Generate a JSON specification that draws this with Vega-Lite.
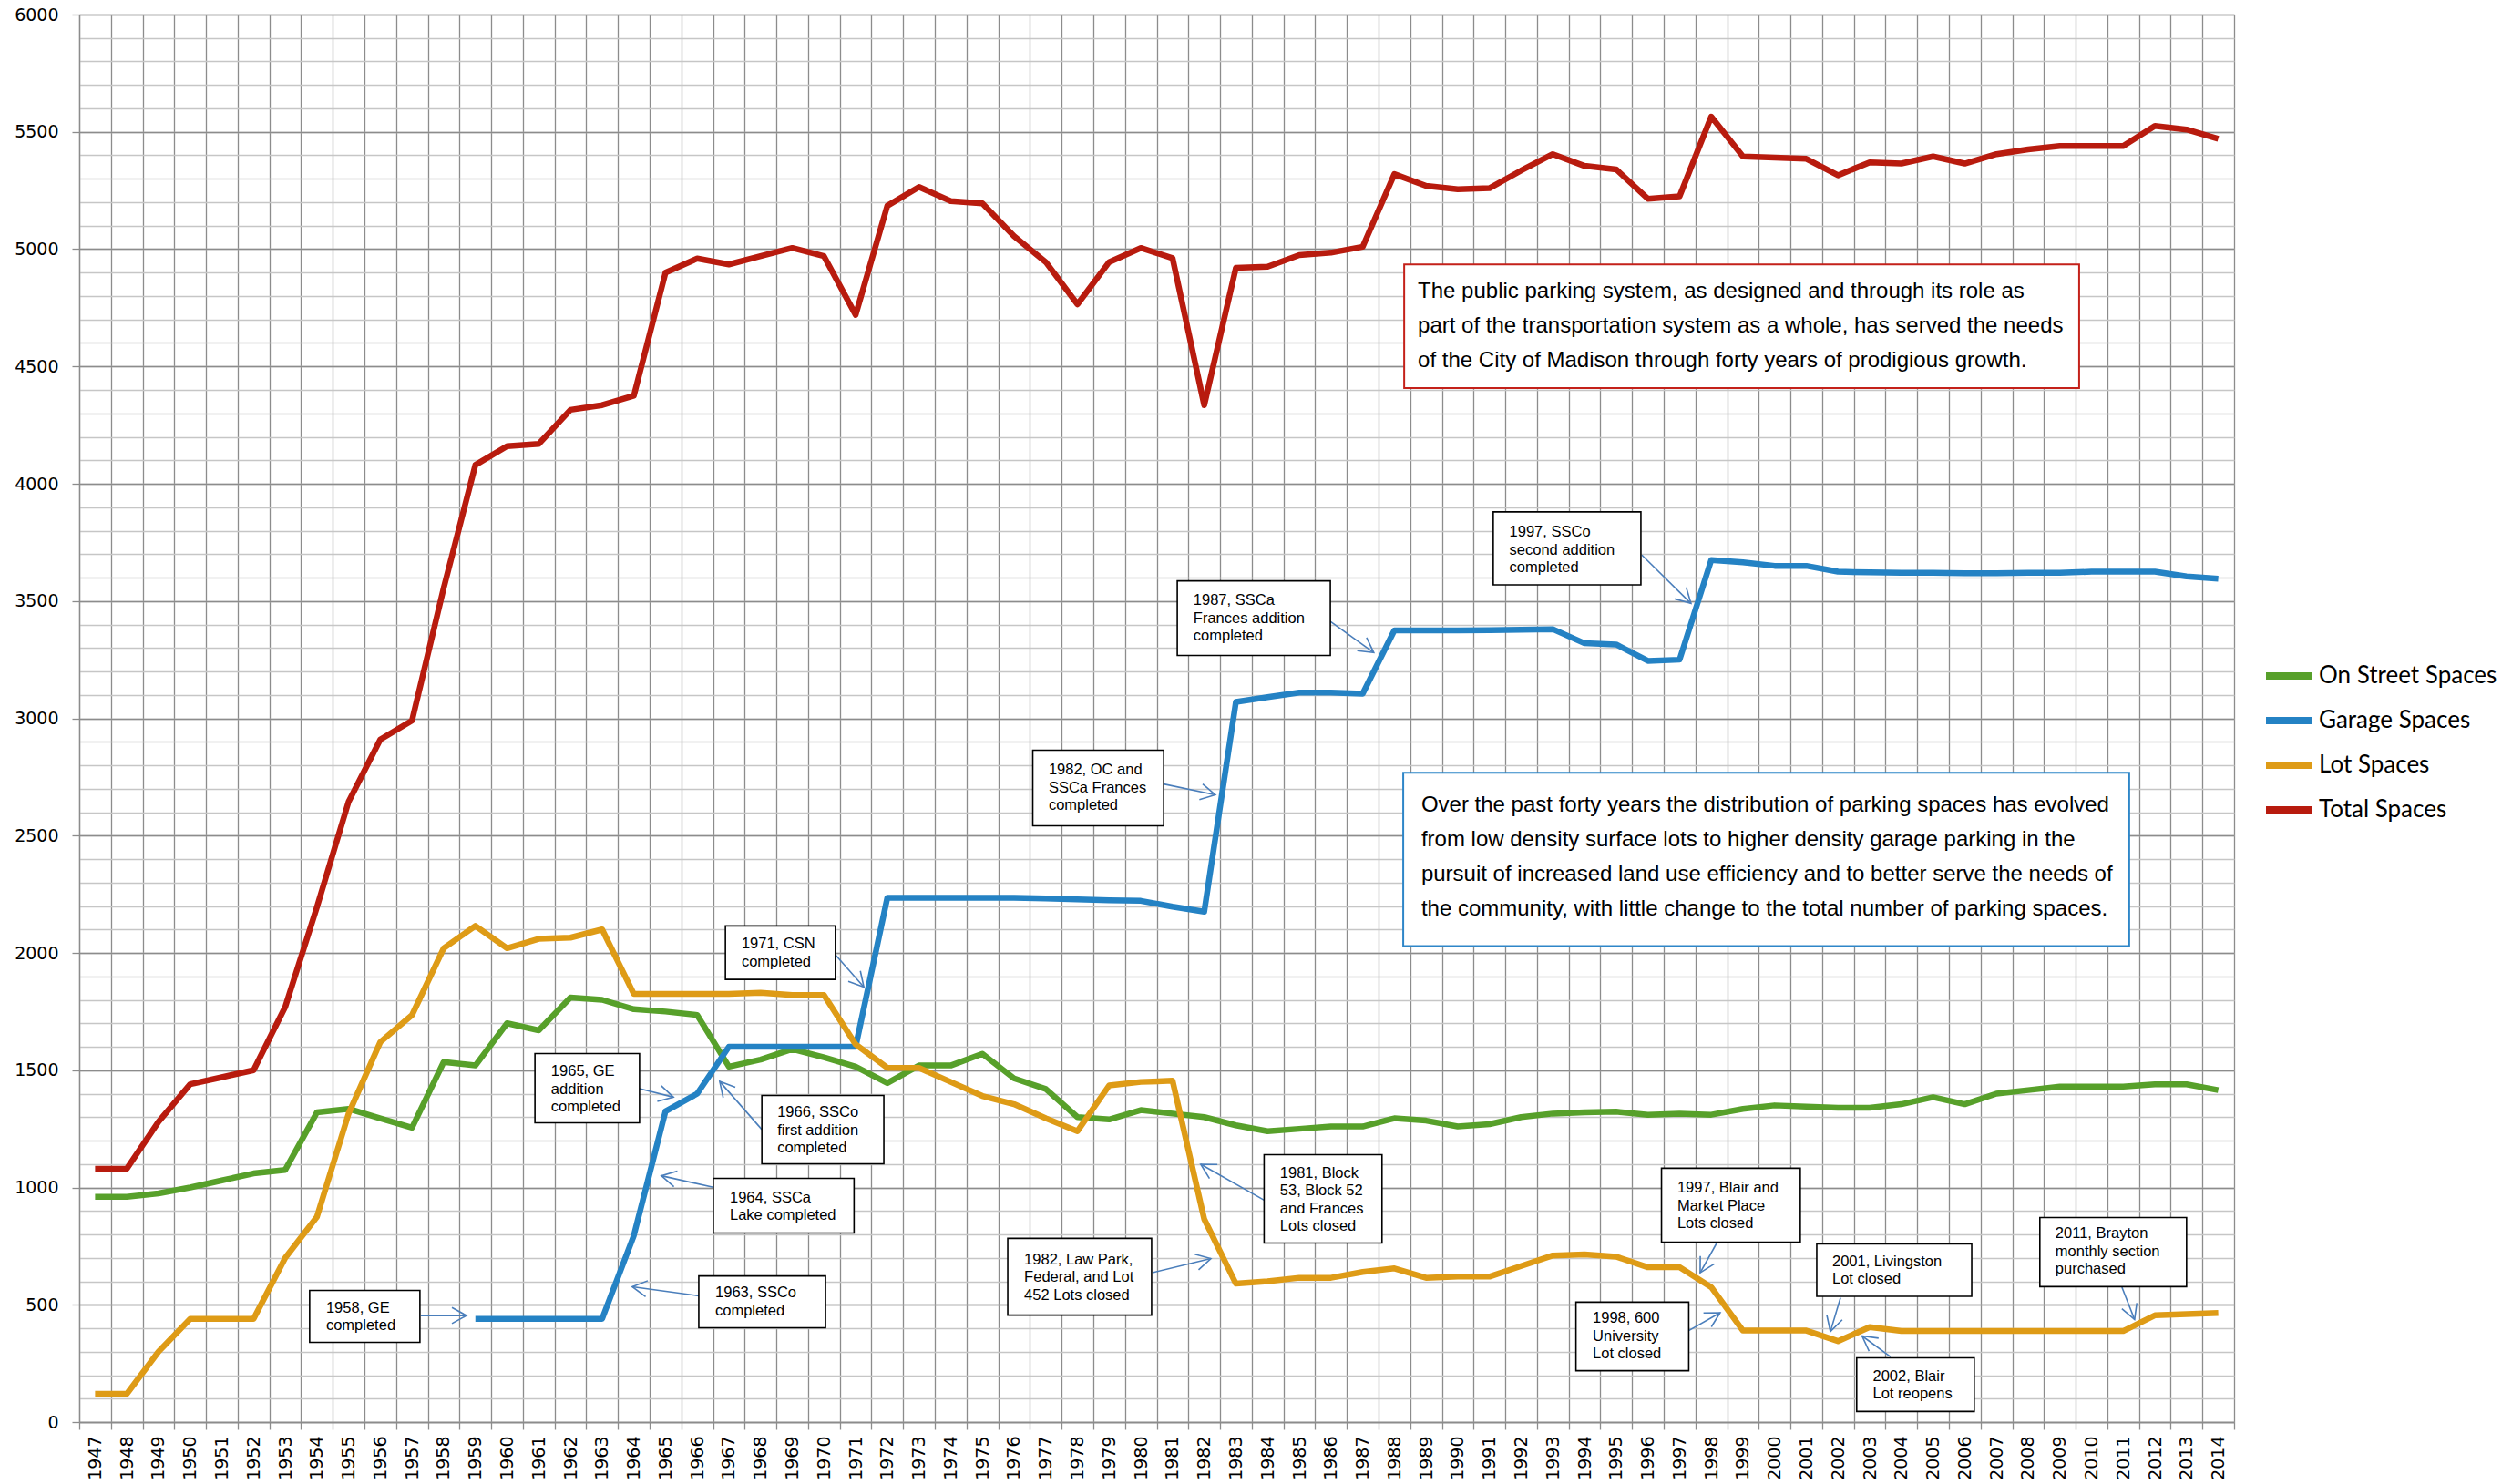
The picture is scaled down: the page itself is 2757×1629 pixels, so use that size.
{
  "$schema": "https://vega.github.io/schema/vega-lite/v6.json",
  "width": 2365,
  "height": 1545,
  "autosize": {"type": "none"},
  "padding": {"left": 87, "top": 16, "right": 305, "bottom": 68},
  "background": "white",
  "config": {"view": {"stroke": null}, "font": "Liberation Sans"},
  "datasets": {
    "counts": [
      {"year": 1947, "On Street Spaces": 960, "Garage Spaces": null, "Lot Spaces": 120, "Total Spaces": 1080},
      {"year": 1948, "On Street Spaces": 960, "Garage Spaces": null, "Lot Spaces": 120, "Total Spaces": 1080},
      {"year": 1949, "On Street Spaces": 975, "Garage Spaces": null, "Lot Spaces": 300, "Total Spaces": 1280},
      {"year": 1950, "On Street Spaces": 1000, "Garage Spaces": null, "Lot Spaces": 440, "Total Spaces": 1440},
      {"year": 1951, "On Street Spaces": 1030, "Garage Spaces": null, "Lot Spaces": 440, "Total Spaces": 1470},
      {"year": 1952, "On Street Spaces": 1060, "Garage Spaces": null, "Lot Spaces": 440, "Total Spaces": 1500},
      {"year": 1953, "On Street Spaces": 1075, "Garage Spaces": null, "Lot Spaces": 700, "Total Spaces": 1770},
      {"year": 1954, "On Street Spaces": 1320, "Garage Spaces": null, "Lot Spaces": 875, "Total Spaces": 2195},
      {"year": 1955, "On Street Spaces": 1335, "Garage Spaces": null, "Lot Spaces": 1315, "Total Spaces": 2645},
      {"year": 1956, "On Street Spaces": 1295, "Garage Spaces": null, "Lot Spaces": 1620, "Total Spaces": 2910},
      {"year": 1957, "On Street Spaces": 1255, "Garage Spaces": null, "Lot Spaces": 1735, "Total Spaces": 2990},
      {"year": 1958, "On Street Spaces": 1535, "Garage Spaces": null, "Lot Spaces": 2020, "Total Spaces": 3555},
      {"year": 1959, "On Street Spaces": 1520, "Garage Spaces": 440, "Lot Spaces": 2115, "Total Spaces": 4080},
      {"year": 1960, "On Street Spaces": 1700, "Garage Spaces": 440, "Lot Spaces": 2020, "Total Spaces": 4160},
      {"year": 1961, "On Street Spaces": 1670, "Garage Spaces": 440, "Lot Spaces": 2060, "Total Spaces": 4170},
      {"year": 1962, "On Street Spaces": 1810, "Garage Spaces": 440, "Lot Spaces": 2065, "Total Spaces": 4315},
      {"year": 1963, "On Street Spaces": 1800, "Garage Spaces": 440, "Lot Spaces": 2100, "Total Spaces": 4335},
      {"year": 1964, "On Street Spaces": 1760, "Garage Spaces": 795, "Lot Spaces": 1825, "Total Spaces": 4375},
      {"year": 1965, "On Street Spaces": 1750, "Garage Spaces": 1325, "Lot Spaces": 1825, "Total Spaces": 4900},
      {"year": 1966, "On Street Spaces": 1735, "Garage Spaces": 1400, "Lot Spaces": 1825, "Total Spaces": 4960},
      {"year": 1967, "On Street Spaces": 1515, "Garage Spaces": 1600, "Lot Spaces": 1825, "Total Spaces": 4935},
      {"year": 1968, "On Street Spaces": 1545, "Garage Spaces": 1600, "Lot Spaces": 1830, "Total Spaces": 4970},
      {"year": 1969, "On Street Spaces": 1590, "Garage Spaces": 1600, "Lot Spaces": 1820, "Total Spaces": 5005},
      {"year": 1970, "On Street Spaces": 1555, "Garage Spaces": 1600, "Lot Spaces": 1820, "Total Spaces": 4970},
      {"year": 1971, "On Street Spaces": 1515, "Garage Spaces": 1600, "Lot Spaces": 1610, "Total Spaces": 4720},
      {"year": 1972, "On Street Spaces": 1445, "Garage Spaces": 2235, "Lot Spaces": 1510, "Total Spaces": 5185},
      {"year": 1973, "On Street Spaces": 1520, "Garage Spaces": 2235, "Lot Spaces": 1510, "Total Spaces": 5265},
      {"year": 1974, "On Street Spaces": 1520, "Garage Spaces": 2235, "Lot Spaces": 1450, "Total Spaces": 5205},
      {"year": 1975, "On Street Spaces": 1570, "Garage Spaces": 2235, "Lot Spaces": 1390, "Total Spaces": 5195},
      {"year": 1976, "On Street Spaces": 1465, "Garage Spaces": 2235, "Lot Spaces": 1355, "Total Spaces": 5055},
      {"year": 1977, "On Street Spaces": 1420, "Garage Spaces": 2232, "Lot Spaces": 1295, "Total Spaces": 4945},
      {"year": 1978, "On Street Spaces": 1300, "Garage Spaces": 2228, "Lot Spaces": 1240, "Total Spaces": 4765},
      {"year": 1979, "On Street Spaces": 1290, "Garage Spaces": 2224, "Lot Spaces": 1435, "Total Spaces": 4945},
      {"year": 1980, "On Street Spaces": 1330, "Garage Spaces": 2222, "Lot Spaces": 1450, "Total Spaces": 5005},
      {"year": 1981, "On Street Spaces": 1315, "Garage Spaces": 2197, "Lot Spaces": 1455, "Total Spaces": 4962},
      {"year": 1982, "On Street Spaces": 1300, "Garage Spaces": 2176, "Lot Spaces": 865, "Total Spaces": 4335},
      {"year": 1983, "On Street Spaces": 1265, "Garage Spaces": 3070, "Lot Spaces": 590, "Total Spaces": 4920},
      {"year": 1984, "On Street Spaces": 1240, "Garage Spaces": 3090, "Lot Spaces": 600, "Total Spaces": 4925},
      {"year": 1985, "On Street Spaces": 1250, "Garage Spaces": 3110, "Lot Spaces": 615, "Total Spaces": 4975},
      {"year": 1986, "On Street Spaces": 1260, "Garage Spaces": 3110, "Lot Spaces": 615, "Total Spaces": 4985},
      {"year": 1987, "On Street Spaces": 1260, "Garage Spaces": 3105, "Lot Spaces": 640, "Total Spaces": 5010},
      {"year": 1988, "On Street Spaces": 1295, "Garage Spaces": 3375, "Lot Spaces": 655, "Total Spaces": 5320},
      {"year": 1989, "On Street Spaces": 1285, "Garage Spaces": 3375, "Lot Spaces": 615, "Total Spaces": 5270},
      {"year": 1990, "On Street Spaces": 1260, "Garage Spaces": 3375, "Lot Spaces": 620, "Total Spaces": 5255},
      {"year": 1991, "On Street Spaces": 1270, "Garage Spaces": 3376, "Lot Spaces": 620, "Total Spaces": 5260},
      {"year": 1992, "On Street Spaces": 1300, "Garage Spaces": 3378, "Lot Spaces": 665, "Total Spaces": 5335},
      {"year": 1993, "On Street Spaces": 1315, "Garage Spaces": 3380, "Lot Spaces": 710, "Total Spaces": 5405},
      {"year": 1994, "On Street Spaces": 1320, "Garage Spaces": 3320, "Lot Spaces": 715, "Total Spaces": 5355},
      {"year": 1995, "On Street Spaces": 1323, "Garage Spaces": 3315, "Lot Spaces": 705, "Total Spaces": 5340},
      {"year": 1996, "On Street Spaces": 1310, "Garage Spaces": 3245, "Lot Spaces": 660, "Total Spaces": 5215},
      {"year": 1997, "On Street Spaces": 1315, "Garage Spaces": 3250, "Lot Spaces": 660, "Total Spaces": 5225},
      {"year": 1998, "On Street Spaces": 1310, "Garage Spaces": 3675, "Lot Spaces": 575, "Total Spaces": 5565},
      {"year": 1999, "On Street Spaces": 1335, "Garage Spaces": 3665, "Lot Spaces": 390, "Total Spaces": 5395},
      {"year": 2000, "On Street Spaces": 1350, "Garage Spaces": 3650, "Lot Spaces": 390, "Total Spaces": 5390},
      {"year": 2001, "On Street Spaces": 1345, "Garage Spaces": 3650, "Lot Spaces": 390, "Total Spaces": 5385},
      {"year": 2002, "On Street Spaces": 1340, "Garage Spaces": 3625, "Lot Spaces": 345, "Total Spaces": 5315},
      {"year": 2003, "On Street Spaces": 1340, "Garage Spaces": 3622, "Lot Spaces": 405, "Total Spaces": 5370},
      {"year": 2004, "On Street Spaces": 1355, "Garage Spaces": 3620, "Lot Spaces": 388, "Total Spaces": 5365},
      {"year": 2005, "On Street Spaces": 1385, "Garage Spaces": 3620, "Lot Spaces": 388, "Total Spaces": 5395},
      {"year": 2006, "On Street Spaces": 1355, "Garage Spaces": 3618, "Lot Spaces": 388, "Total Spaces": 5365},
      {"year": 2007, "On Street Spaces": 1400, "Garage Spaces": 3618, "Lot Spaces": 388, "Total Spaces": 5405},
      {"year": 2008, "On Street Spaces": 1415, "Garage Spaces": 3620, "Lot Spaces": 388, "Total Spaces": 5425},
      {"year": 2009, "On Street Spaces": 1430, "Garage Spaces": 3620, "Lot Spaces": 388, "Total Spaces": 5440},
      {"year": 2010, "On Street Spaces": 1430, "Garage Spaces": 3625, "Lot Spaces": 388, "Total Spaces": 5440},
      {"year": 2011, "On Street Spaces": 1430, "Garage Spaces": 3625, "Lot Spaces": 388, "Total Spaces": 5440},
      {"year": 2012, "On Street Spaces": 1440, "Garage Spaces": 3625, "Lot Spaces": 455, "Total Spaces": 5525},
      {"year": 2013, "On Street Spaces": 1440, "Garage Spaces": 3605, "Lot Spaces": 460, "Total Spaces": 5510},
      {"year": 2014, "On Street Spaces": 1415, "Garage Spaces": 3595, "Lot Spaces": 465, "Total Spaces": 5470}
    ],
    "notes": [
      {"label": "1958, GE\ncompleted", "bx1": 1953.77, "bx2": 1957.25, "by1": 561, "by2": 340, "tx": 1954.29, "ty": 487, "ax1": 1957.28, "ay1": 454, "ax2": 1958.72, "ay2": 454, "ang": 0},
      {"label": "1965, GE\naddition\ncompleted", "bx1": 1960.88, "bx2": 1964.18, "by1": 1571, "by2": 1276, "tx": 1961.39, "ty": 1495, "ax1": 1964.18, "ay1": 1421, "ax2": 1965.25, "ay2": 1385, "ang": 14.4},
      {"label": "1971, CSN\ncompleted", "bx1": 1966.89, "bx2": 1970.36, "by1": 2115, "by2": 1887, "tx": 1967.4, "ty": 2037, "ax1": 1970.36, "ay1": 1992, "ax2": 1971.26, "ay2": 1854, "ang": 48.9},
      {"label": "1966, SSCo\nfirst addition\ncompleted", "bx1": 1968.04, "bx2": 1971.89, "by1": 1392, "by2": 1101, "tx": 1968.53, "ty": 1320, "ax1": 1968.04, "ay1": 1247, "ax2": 1966.71, "ay2": 1452, "ang": -131},
      {"label": "1964, SSCa\nLake completed", "bx1": 1966.51, "bx2": 1970.95, "by1": 1039, "by2": 806, "tx": 1967.03, "ty": 957, "ax1": 1966.54, "ay1": 1000, "ax2": 1964.87, "ay2": 1050, "ang": -167.4},
      {"label": "1963, SSCo\ncompleted", "bx1": 1966.05, "bx2": 1970.05, "by1": 623, "by2": 402, "tx": 1966.57, "ty": 550, "ax1": 1966.05, "ay1": 538, "ax2": 1963.95, "ay2": 577, "ang": -172.2},
      {"label": "1982, OC and\nSSCa Frances\ncompleted", "bx1": 1976.59, "bx2": 1980.72, "by1": 2864, "by2": 2542, "tx": 1977.09, "ty": 2779, "ax1": 1980.72, "ay1": 2720, "ax2": 1982.35, "ay2": 2674, "ang": 11.9},
      {"label": "1982, Law Park,\nFederal, and Lot\n452 Lots closed", "bx1": 1975.8, "bx2": 1980.34, "by1": 783, "by2": 456, "tx": 1976.32, "ty": 693, "ax1": 1980.37, "ay1": 637, "ax2": 1982.21, "ay2": 697, "ang": -13.6},
      {"label": "1981, Block\n53, Block 52\nand Frances\nLots closed", "bx1": 1983.89, "bx2": 1987.61, "by1": 1140, "by2": 763, "tx": 1984.39, "ty": 1062, "ax1": 1983.89, "ay1": 946, "ax2": 1981.89, "ay2": 1099, "ang": -150.4},
      {"label": "1987, SSCa\nFrances addition\ncompleted", "bx1": 1981.15, "bx2": 1985.98, "by1": 3586, "by2": 3268, "tx": 1981.66, "ty": 3501, "ax1": 1985.98, "ay1": 3413, "ax2": 1987.35, "ay2": 3280, "ang": 35.7},
      {"label": "1997, SSCo\nsecond addition\ncompleted", "bx1": 1991.12, "bx2": 1995.78, "by1": 3880, "by2": 3569, "tx": 1991.63, "ty": 3793, "ax1": 1995.81, "ay1": 3696, "ax2": 1997.36, "ay2": 3490, "ang": 44.6},
      {"label": "1998, 600\nUniversity\nLot closed", "bx1": 1993.73, "bx2": 1997.29, "by1": 511, "by2": 219, "tx": 1994.26, "ty": 441, "ax1": 1997.29, "ay1": 390, "ax2": 1998.28, "ay2": 466, "ang": -29.5},
      {"label": "1997, Blair and\nMarket Place\nLots closed", "bx1": 1996.43, "bx2": 2000.81, "by1": 1082, "by2": 767, "tx": 1996.93, "ty": 998, "ax1": 1998.19, "ay1": 767, "ax2": 1997.65, "ay2": 636.5, "ang": 119.2},
      {"label": "2001, Livingston\nLot closed", "bx1": 2001.33, "bx2": 2006.22, "by1": 759, "by2": 536, "tx": 2001.82, "ty": 685, "ax1": 2002.08, "ay1": 530, "ax2": 2001.76, "ay2": 386, "ang": 106.6},
      {"label": "2002, Blair\nLot reopens", "bx1": 2002.59, "bx2": 2006.3, "by1": 274, "by2": 45, "tx": 2003.1, "ty": 196, "ax1": 2003.66, "ay1": 278, "ax2": 2002.76, "ay2": 367, "ang": -143.7},
      {"label": "2011, Brayton\nmonthly section\npurchased", "bx1": 2008.37, "bx2": 2013.0, "by1": 872, "by2": 577, "tx": 2008.86, "ty": 802, "ax1": 2010.96, "ay1": 575, "ax2": 2011.36, "ay2": 437, "ang": 68.9}
    ],
    "panels": [
      {"id": "system", "note": "The public parking system, as designed and through its role as\npart of the transportation system as a whole, has served the needs\nof the City of Madison through forty years of prodigious growth.", "bx1": 1988.31, "bx2": 2009.61, "by1": 4935, "by2": 4408, "tx": 1988.74, "ty": 4821},
      {"id": "distribution", "note": "Over the past forty years the distribution of parking spaces has evolved\nfrom low density surface lots to higher density garage parking in the\npursuit of increased land use efficiency and to better serve the needs of\nthe community, with little change to the total number of parking spaces.", "bx1": 1988.28, "bx2": 2011.19, "by1": 2768, "by2": 2029, "tx": 1988.85, "ty": 2629}
    ]
  },
  "layer": [
    {
      "data": {"name": "counts"},
      "transform": [{"fold": ["On Street Spaces", "Garage Spaces", "Lot Spaces", "Total Spaces"], "as": ["series", "spaces"]}],
      "mark": {"type": "line", "strokeWidth": 6.5, "strokeJoin": "round"},
      "encoding": {
        "x": {
          "field": "year", "type": "quantitative",
          "scale": {"domain": [1946.5, 2014.5], "nice": false, "zero": false},
          "axis": {
            "orient": "bottom", "title": null, "labels": false,
            "values": [1946.5,1947.5,1948.5,1949.5,1950.5,1951.5,1952.5,1953.5,1954.5,1955.5,1956.5,1957.5,1958.5,1959.5,1960.5,1961.5,1962.5,1963.5,1964.5,1965.5,1966.5,1967.5,1968.5,1969.5,1970.5,1971.5,1972.5,1973.5,1974.5,1975.5,1976.5,1977.5,1978.5,1979.5,1980.5,1981.5,1982.5,1983.5,1984.5,1985.5,1986.5,1987.5,1988.5,1989.5,1990.5,1991.5,1992.5,1993.5,1994.5,1995.5,1996.5,1997.5,1998.5,1999.5,2000.5,2001.5,2002.5,2003.5,2004.5,2005.5,2006.5,2007.5,2008.5,2009.5,2010.5,2011.5,2012.5,2013.5,2014.5],
            "grid": true, "gridColor": "#8c8c8c", "gridWidth": 1.3,
            "ticks": true, "tickSize": 8, "tickColor": "#8c8c8c", "tickWidth": 1.3,
            "domain": true, "domainColor": "#8c8c8c", "domainWidth": 1.3
          }
        },
        "y": {
          "field": "spaces", "type": "quantitative",
          "scale": {"domain": [0, 6000], "nice": false},
          "axis": {
            "orient": "left", "title": null, "labels": false, "ticks": false, "domain": false,
            "values": [0,100,200,300,400,500,600,700,800,900,1000,1100,1200,1300,1400,1500,1600,1700,1800,1900,2000,2100,2200,2300,2400,2500,2600,2700,2800,2900,3000,3100,3200,3300,3400,3500,3600,3700,3800,3900,4000,4100,4200,4300,4400,4500,4600,4700,4800,4900,5000,5100,5200,5300,5400,5500,5600,5700,5800,5900,6000],
            "grid": true, "gridColor": "#c6c6c6", "gridWidth": 1.3
          }
        },
        "color": {
          "field": "series", "type": "nominal",
          "scale": {"domain": ["On Street Spaces", "Garage Spaces", "Lot Spaces", "Total Spaces"], "range": ["#57a02a", "#2482c4", "#de9b16", "#b81b0e"]},
          "legend": {
            "title": null, "orient": "none", "legendX": 2396, "legendY": 697,
            "symbolType": "stroke", "symbolSize": 2500, "symbolStrokeWidth": 8,
            "labelFont": "Lato", "labelFontSize": 26, "labelColor": "black", "labelOffset": 4,
            "rowPadding": 4, "labelLimit": 400
          }
        }
      }
    },
    {
      "data": {"name": "notes"},
      "mark": {"type": "rule", "color": "#4a7ebb", "strokeWidth": 1.6},
      "encoding": {
        "x": {"field": "ax1", "type": "quantitative", "scale": {"domain": [1946.5, 2014.5], "nice": false, "zero": false}, "axis": null},
        "x2": {"field": "ax2"},
        "y": {
          "field": "ay1", "type": "quantitative", "scale": {"domain": [0, 6000], "nice": false},
          "axis": {
            "orient": "left", "title": null, "format": "d",
            "values": [0,500,1000,1500,2000,2500,3000,3500,4000,4500,5000,5500,6000],
            "labelFont": "DejaVu Sans", "labelFontSize": 19, "labelColor": "black", "labelPadding": 15, "labelOverlap": false,
            "grid": true, "gridColor": "#8c8c8c", "gridWidth": 1.3,
            "ticks": true, "tickSize": 8, "tickColor": "#8c8c8c", "tickWidth": 1.3,
            "domain": true, "domainColor": "#8c8c8c", "domainWidth": 1.3
          }
        },
        "y2": {"field": "ay2"}
      }
    },
    {
      "data": {"name": "notes"},
      "mark": {"type": "point", "shape": "M-1,-0.55L0,0L-1,0.55", "filled": false, "stroke": "#4a7ebb", "strokeWidth": 1.6, "size": 1024, "opacity": 1},
      "encoding": {
        "x": {"field": "ax2", "type": "quantitative", "scale": {"domain": [1946.5, 2014.5], "nice": false, "zero": false}, "axis": null},
        "y": {"field": "ay2", "type": "quantitative", "scale": {"domain": [0, 6000], "nice": false}, "axis": null},
        "angle": {"field": "ang", "type": "quantitative", "scale": null}
      }
    },
    {
      "data": {"name": "notes"},
      "mark": {"type": "rect", "fill": "white", "stroke": "black", "strokeWidth": 1.6},
      "encoding": {
        "x": {
          "field": "bx1", "type": "quantitative",
          "scale": {"domain": [1946.5, 2014.5], "nice": false, "zero": false},
          "axis": {
            "orient": "bottom", "title": null, "format": "d",
            "values": [1947,1948,1949,1950,1951,1952,1953,1954,1955,1956,1957,1958,1959,1960,1961,1962,1963,1964,1965,1966,1967,1968,1969,1970,1971,1972,1973,1974,1975,1976,1977,1978,1979,1980,1981,1982,1983,1984,1985,1986,1987,1988,1989,1990,1991,1992,1993,1994,1995,1996,1997,1998,1999,2000,2001,2002,2003,2004,2005,2006,2007,2008,2009,2010,2011,2012,2013,2014],
            "grid": false, "ticks": false, "domain": false,
            "labelAngle": 270, "labelPadding": 15, "labelFont": "DejaVu Sans", "labelFontSize": 19, "labelColor": "black",
            "labelOverlap": false, "labelFlush": false
          }
        },
        "x2": {"field": "bx2"},
        "y": {"field": "by1", "type": "quantitative", "scale": {"domain": [0, 6000], "nice": false}, "axis": null},
        "y2": {"field": "by2"}
      }
    },
    {
      "data": {"name": "notes"},
      "mark": {"type": "text", "align": "left", "baseline": "middle", "lineBreak": "\n", "lineHeight": 19.5, "fontSize": 16.5, "font": "Liberation Sans", "color": "black"},
      "encoding": {
        "x": {"field": "tx", "type": "quantitative", "scale": {"domain": [1946.5, 2014.5], "nice": false, "zero": false}, "axis": null},
        "y": {"field": "ty", "type": "quantitative", "scale": {"domain": [0, 6000], "nice": false}, "axis": null},
        "text": {"field": "label"}
      }
    },
    {
      "data": {"name": "panels"},
      "mark": {"type": "rect", "fill": "white", "strokeWidth": 2},
      "encoding": {
        "x": {"field": "bx1", "type": "quantitative", "scale": {"domain": [1946.5, 2014.5], "nice": false, "zero": false}, "axis": null},
        "x2": {"field": "bx2"},
        "y": {"field": "by1", "type": "quantitative", "scale": {"domain": [0, 6000], "nice": false}, "axis": null},
        "y2": {"field": "by2"},
        "stroke": {"condition": {"test": "datum.id === 'system'", "value": "#c4211a"}, "value": "#2e86c8"}
      }
    },
    {
      "data": {"name": "panels"},
      "mark": {"type": "text", "align": "left", "baseline": "middle", "lineBreak": "\n", "lineHeight": 38, "fontSize": 24, "font": "Liberation Sans", "color": "black"},
      "encoding": {
        "x": {"field": "tx", "type": "quantitative", "scale": {"domain": [1946.5, 2014.5], "nice": false, "zero": false}, "axis": null},
        "y": {"field": "ty", "type": "quantitative", "scale": {"domain": [0, 6000], "nice": false}, "axis": null},
        "text": {"field": "note"}
      }
    }
  ],
  "resolve": {"axis": {"x": "independent", "y": "independent"}}
}
